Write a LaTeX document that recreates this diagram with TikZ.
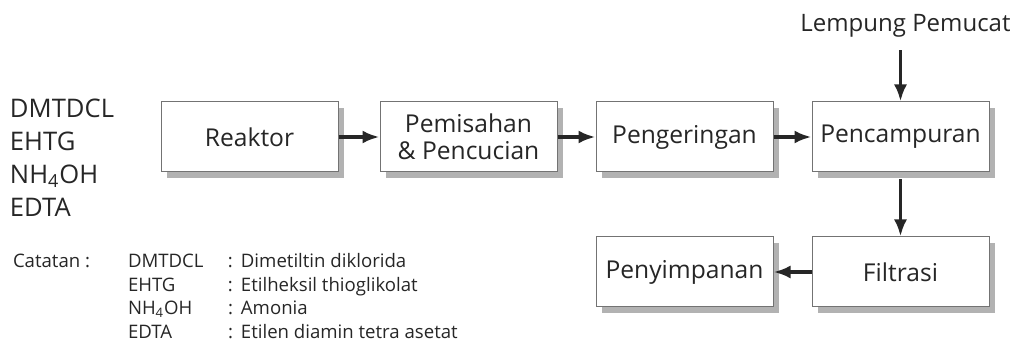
\documentclass[tikz,border=0pt]{standalone}
\usepackage{fontspec}
\setmainfont{Open Sans}
\usetikzlibrary{arrows.meta}
\usetikzlibrary{shadows}
\usetikzlibrary{positioning}
\tikzset{auto, >={Latex[length=8.5pt,width=6.5pt]}, node distance=19pt, font=\fontsize{12.3}{13.5}\selectfont}
\tikzstyle{block} = [draw=black!55, line width=0.5pt, fill=white, rectangle, minimum height=35pt, minimum width=88.5pt, text centered, align=center, text=black!85, drop shadow={shadow xshift=3pt, shadow yshift=-3pt, fill=black!30, opacity=1}]
\tikzstyle{txt} = [inner sep=0pt, outer sep=0pt, text=black!85]
\tikzstyle{flow} = [->, line width=1.7pt, draw=black!85]

\begin{document}
\begin{tikzpicture}[x=0.5pt, y=-0.5pt]
		\useasboundingbox (0,0) rectangle (1019,352);

		\node [block] (reaktor) at (249.5,137) {Reaktor};
		\node [block, right=20.5pt of reaktor] (pemisahan) {Pemisahan\\\& Pencucian};
		\node [block, right=of pemisahan] (pengeringan) {Pengeringan};
		\node [block, right=of pengeringan] (pencampuran) {Pencampuran};
		\node [block, below=32pt of pencampuran] (filtrasi) {Filtrasi};
		\node [block, left=of filtrasi] (penyimpanan) {Penyimpanan};

		\node [txt, above=32pt of pencampuran, xshift=2.5pt, font=\fontsize{12}{12}\selectfont] (lempung) {Lempung Pemucat};

		\node [txt, anchor=north west, align=left, font=\fontsize{12.8}{16.5}\selectfont] (bahan) at (10,98.5) {DMTDCL\\EHTG\\NH\textsubscript{4}OH\\EDTA};

		\node [txt, anchor=base west, font=\fontsize{9.3}{11.7}\selectfont] (catatan) at (13,268) {Catatan :};
		\node [txt, anchor=base west, font=\fontsize{9.3}{11.7}\selectfont] (daftar) at (128,268) {%
			\begin{tabular}[t]{@{}p{50pt}@{}l@{\hspace{4pt}}l@{}}
				DMTDCL & : & Dimetiltin diklorida\\
				EHTG & : & Etilheksil thioglikolat\\
				NH\textsubscript{4}OH & : & Amonia\\
				EDTA & : & Etilen diamin tetra asetat
			\end{tabular}};

		\draw [flow] (reaktor) -- (pemisahan);
		\draw [flow] (pemisahan) -- (pengeringan);
		\draw [flow] (pengeringan) -- (pencampuran);
		\draw [flow, shorten <=6.5pt] (pencampuran |- lempung.south) -- (pencampuran);
		\draw [flow, shorten <=3.5pt] (pencampuran) -- (filtrasi);
		\draw [flow] (filtrasi) -- (penyimpanan);

	\end{tikzpicture}
\end{document}
